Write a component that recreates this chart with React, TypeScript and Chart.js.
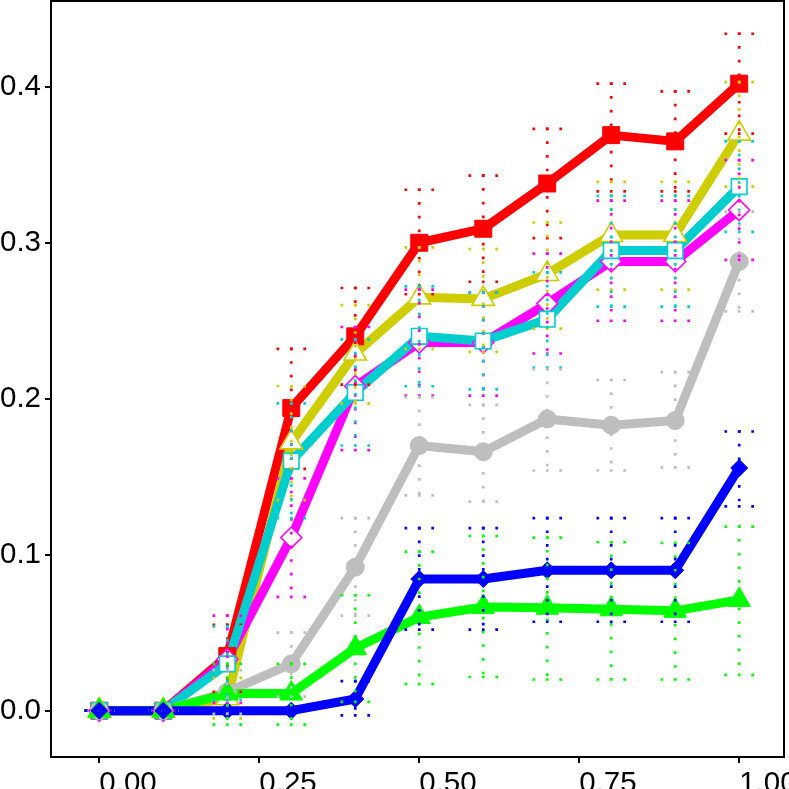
import { useEffect, useRef } from "react"
import { Chart, registerables } from "chart.js"

Chart.register(...registerables)

// x positions of the measurements and axis ticks
const xValues = [0, 0.1, 0.2, 0.3, 0.4, 0.5, 0.6, 0.7, 0.8, 0.9, 1.0]
const xTicks = [0, 0.25, 0.5, 0.75, 1]
const yTicks = [0, 0.1, 0.2, 0.3, 0.4]

// series values (mean, lower and upper error limits)
const redMean = [0, 0, 0.035, 0.194, 0.24, 0.3, 0.309, 0.338, 0.369, 0.365, 0.402]
const redLower = [0, 0, 0.012, 0.155, 0.209, 0.267, 0.275, 0.303, 0.333, 0.333, 0.37]
const redUpper = [0, 0, 0.055, 0.232, 0.271, 0.334, 0.343, 0.373, 0.402, 0.397, 0.434]

const yellowMean = [0, 0, 0.008, 0.172, 0.229, 0.265, 0.264, 0.28, 0.305, 0.305, 0.37]
const yellowLower = [0, 0, -0.005, 0.135, 0.197, 0.232, 0.23, 0.245, 0.27, 0.27, 0.336]
const yellowUpper = [0, 0, 0.021, 0.208, 0.26, 0.297, 0.296, 0.313, 0.339, 0.339, 0.403]

const cyanMean = [0, 0, 0.03, 0.16, 0.204, 0.24, 0.237, 0.251, 0.295, 0.295, 0.336]
const cyanLower = [0, 0, 0.007, 0.1235, 0.17, 0.208, 0.206, 0.22, 0.259, 0.259, 0.307]
const cyanUpper = [0, 0, 0.054, 0.197, 0.238, 0.272, 0.268, 0.281, 0.33, 0.33, 0.365]

const magentaMean = [0, 0, 0.033, 0.111, 0.208, 0.236, 0.236, 0.261, 0.288, 0.288, 0.321]
const magentaLower = [0, 0, 0.005, 0.073, 0.167, 0.202, 0.202, 0.229, 0.25, 0.25, 0.289]
const magentaUpper = [0, 0, 0.061, 0.149, 0.246, 0.27, 0.268, 0.293, 0.327, 0.327, 0.353]

const grayMean = [0, 0, 0.012, 0.03, 0.092, 0.17, 0.166, 0.187, 0.183, 0.186, 0.288]
const grayLower = [0, 0, -0.002, 0.009, 0.061, 0.138, 0.134, 0.154, 0.154, 0.156, 0.256]
const grayUpper = [0, 0, 0.026, 0.05, 0.1235, 0.201, 0.196, 0.219, 0.212, 0.217, 0.32]

const blueMean = [0, 0, 0, 0, 0.0075, 0.0844, 0.0844, 0.09, 0.09, 0.09, 0.1556]
const blueLower = [0, 0, 0, 0, -0.003, 0.052, 0.052, 0.057, 0.057, 0.057, 0.131]
const blueUpper = [0, 0, 0, 0, 0.019, 0.117, 0.117, 0.1235, 0.1235, 0.1235, 0.179]

const greenMean = [0, 0, 0.011, 0.011, 0.04, 0.06, 0.0665, 0.066, 0.065, 0.064, 0.071]
const greenLower = [0, 0, -0.009, -0.009, 0.0056, 0.017, 0.0216, 0.02, 0.02, 0.02, 0.023]
const greenUpper = [0, 0, 0.03, 0.03, 0.074, 0.102, 0.112, 0.111, 0.108, 0.1075, 0.118]

// rank 0 is drawn on top
const series = [
  { color: "#FF0000", mean: redMean, lower: redLower, upper: redUpper, style: "rect", radius: 12, filled: true, rank: 6 },
  { color: "#CDCD00", mean: yellowMean, lower: yellowLower, upper: yellowUpper, style: "triangle", radius: 13, filled: false, rank: 5 },
  { color: "#FF00FF", mean: magentaMean, lower: magentaLower, upper: magentaUpper, style: "rectRot", radius: 10.5, filled: false, rank: 4 },
  { color: "#00CDCD", mean: cyanMean, lower: cyanLower, upper: cyanUpper, style: "rect", radius: 11, filled: false, rank: 3 },
  { color: "#BEBEBE", mean: grayMean, lower: grayLower, upper: grayUpper, style: "circle", radius: 9, filled: true, rank: 2 },
  { color: "#00FF00", mean: greenMean, lower: greenLower, upper: greenUpper, style: "triangle", radius: 13, filled: true, rank: 1 },
  { color: "#0000FF", mean: blueMean, lower: blueLower, upper: blueUpper, style: "rectRot", radius: 8.5, filled: true, rank: 0 },
]

const FONT = "'Liberation Sans', Arial, sans-serif"
const capHalf = 0.021

const errorBars = {
  id: "errorBars",
  afterDatasetsDraw(chart: any) {
    const { ctx, chartArea } = chart
    const x = chart.scales.x
    const y = chart.scales.y
    ctx.save()
    ctx.beginPath()
    ctx.rect(chartArea.left, chartArea.top, chartArea.right - chartArea.left, chartArea.bottom - chartArea.top)
    ctx.clip()
    ctx.lineWidth = 2.7
    ctx.lineCap = "butt"
    series.forEach((s) => {
      ctx.strokeStyle = s.color
      xValues.forEach((xv, i) => {
        const px = x.getPixelForValue(xv)
        const hw = x.getPixelForValue(xv + capHalf) - px
        const top = y.getPixelForValue(s.upper[i])
        const bot = y.getPixelForValue(s.lower[i])
        if (bot - top > 1) {
          ctx.setLineDash([2.7, 11])
          ctx.beginPath()
          ctx.moveTo(px, top - 1.35)
          ctx.lineTo(px, bot)
          ctx.stroke()
        }
        ctx.setLineDash([2.7, hw - 2.7])
        for (const cy of [top, bot]) {
          ctx.beginPath()
          ctx.moveTo(px - hw - 1.35, cy)
          ctx.lineTo(px + hw + 1.6, cy)
          ctx.stroke()
        }
      })
    })
    ctx.restore()
  },
  afterDraw(chart: any) {
    const { ctx, chartArea } = chart
    ctx.save()
    ctx.strokeStyle = "#000"
    ctx.lineWidth = 2
    ctx.strokeRect(chartArea.left, chartArea.top, chartArea.right - chartArea.left, chartArea.bottom - chartArea.top)
    ctx.restore()
  },
}

// keep the plot panel exactly where the axes say, without label overhang padding
const noOverhang = (s: any) => {
  s.paddingLeft = 0
  s.paddingRight = 0
  s.paddingTop = 0
  s.paddingBottom = 0
}

export default function App() {
  const chartRef = useRef<HTMLCanvasElement>(null)
  const chartInstance = useRef<Chart | null>(null)

  useEffect(() => {
    if (!chartRef.current) return
    if (chartInstance.current) chartInstance.current.destroy()
    const ctx = chartRef.current.getContext("2d")
    if (!ctx) return

    const lineSets = series.map((s) => ({
      type: "line" as const,
      data: xValues.map((xv, i) => ({ x: xv, y: s.mean[i] })),
      borderColor: s.color,
      borderWidth: 9,
      borderJoinStyle: "round" as const,
      borderCapStyle: "round" as const,
      pointRadius: 0,
      tension: 0,
      fill: false,
      order: 10 + s.rank,
    }))
    const pointSets = series.map((s) => ({
      type: "line" as const,
      data: xValues.map((xv, i) => ({ x: xv, y: s.mean[i] })),
      showLine: false,
      pointStyle: s.style as any,
      pointRadius: s.radius,
      pointBackgroundColor: s.filled ? s.color : "#FFFFFF",
      pointBorderColor: s.color,
      pointBorderWidth: s.filled ? 1 : 1.6,
      order: s.rank,
    }))

    chartInstance.current = new Chart(ctx, {
      type: "line",
      data: { datasets: [...lineSets, ...pointSets] },
      options: {
        animation: false,
        responsive: true,
        maintainAspectRatio: false,
        layout: { autoPadding: false, padding: { top: 1, right: 5, left: 0, bottom: 0 } },
        plugins: { legend: { display: false }, tooltip: { enabled: false } },
        scales: {
          x: {
            type: "linear",
            min: -0.0755,
            max: 1.07,
            afterBuildTicks: (s: any) => {
              s.ticks = xTicks.map((v) => ({ value: v }))
            },
            afterFit: (s: any) => {
              s.height = 32
              noOverhang(s)
            },
            ticks: {
              callback: (v: any) => Number(v).toFixed(2),
              font: { family: FONT, size: 29.5 },
              color: "#000",
              padding: 3,
              align: "start",
              maxRotation: 0,
              autoSkip: false,
            },
            grid: { drawOnChartArea: false, drawTicks: true, tickLength: 6, color: "#000", lineWidth: 2 },
            border: { display: true, color: "#000", width: 2 },
          },
          y: {
            type: "linear",
            min: -0.0297,
            max: 0.455,
            afterBuildTicks: (s: any) => {
              s.ticks = yTicks.map((v) => ({ value: v }))
            },
            afterFit: (s: any) => {
              s.width = 51
              noOverhang(s)
            },
            ticks: {
              callback: (v: any) => Number(v).toFixed(1),
              font: { family: FONT, size: 29.5 },
              color: "#000",
              padding: 4,
              autoSkip: false,
            },
            grid: { drawOnChartArea: false, drawTicks: true, tickLength: 6, color: "#000", lineWidth: 2 },
            border: { display: true, color: "#000", width: 2 },
          },
        },
      },
      plugins: [errorBars],
    })

    return () => {
      if (chartInstance.current) {
        chartInstance.current.destroy()
        chartInstance.current = null
      }
    }
  }, [])

  return (
    <div style={{ position: "fixed", left: 0, top: 0, width: 789, height: 789, background: "#fff" }}>
      <canvas ref={chartRef} />
    </div>
  )
}
